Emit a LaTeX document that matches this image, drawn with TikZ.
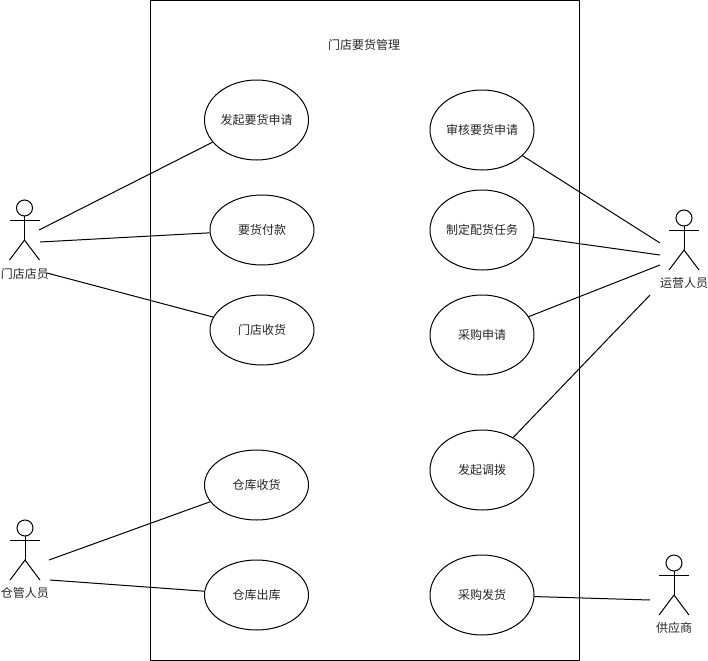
\documentclass[tikz,border=0pt]{standalone}
\usepackage{fontspec}
\setmainfont{Noto Sans CJK SC}
\tikzset{
  usecase/.style={draw, ellipse, minimum width=78pt, minimum height=52.5pt, inner sep=0pt, fill=white},
  usecasetall/.style={usecase, minimum height=60pt},
  caption/.style={font=\fontsize{9pt}{11pt}\selectfont, text=black!85, inner sep=0pt},
  actor/.pic={
    \draw (0,-12) circle (6pt);
    \draw (-15,0) -- (15,0);
    \draw (0,-4) -- (0,20);
    \draw (-15,40) -- (0,20) -- (15,40);
  }
}
\usetikzlibrary{shapes.geometric}
\begin{document}
\begin{tikzpicture}[x=0.75pt, y=-0.75pt, line width=0.75pt, every node/.append style={caption}]
            \useasboundingbox (0, 0) rectangle (708, 661);
            \node[draw, minimum width=321.75pt, minimum height=495pt, inner sep=0pt] (system) at (364.5, 330) {};
            \node (title) at (364, 45) {门店要货管理};
            % left column
            \node[usecasetall] (apply) at (256.5, 120) {发起要货申请};
            \node[usecase] (pay) at (262, 230) {要货付款};
            \node[usecase] (receive) at (262, 330) {门店收货};
            \node[usecase] (inbound) at (256.5, 485) {仓库收货};
            \node[usecase] (outbound) at (256.5, 595) {仓库出库};
            % right column
            \node[usecasetall] (audit) at (482, 130) {审核要货申请};
            \node[usecasetall] (task) at (482, 230) {制定配货任务};
            \node[usecasetall] (purchase) at (482, 335) {采购申请};
            \node[usecasetall] (transfer) at (482, 470) {发起调拨};
            \node[usecasetall] (deliver) at (482, 595) {采购发货};
            % actors
            \pic at (24.5, 220) {actor};
            \pic at (684, 230) {actor};
            \pic at (25, 540) {actor};
            \pic at (674, 575) {actor};
            \node (clerk) at (25, 274) {门店店员};
            \node (ops) at (684, 283) {运营人员};
            \node (keeper) at (25, 593) {仓管人员};
            \node (supplier) at (674, 628) {供应商};
            % free ends next to the actors
            \coordinate (clerka) at (39, 230);
            \coordinate (clerkb) at (40, 242);
            \coordinate (clerkc) at (47, 273);
            \coordinate (opsa) at (660, 243);
            \coordinate (opsb) at (660, 255);
            \coordinate (opsc) at (660, 265);
            \coordinate (opsd) at (650, 295);
            \coordinate (keepera) at (49, 560);
            \coordinate (keeperb) at (50, 580);
            \coordinate (suppliera) at (650, 600);
            \draw (clerka) -- (apply);
            \draw (clerkb) -- (pay);
            \draw (clerkc) -- (receive);
            \draw (audit) -- (opsa);
            \draw (task) -- (opsb);
            \draw (purchase) -- (opsc);
            \draw (transfer) -- (opsd);
            \draw (keepera) -- (inbound);
            \draw (keeperb) -- (outbound);
            \draw (deliver) -- (suppliera);
          \end{tikzpicture}
\end{document}
